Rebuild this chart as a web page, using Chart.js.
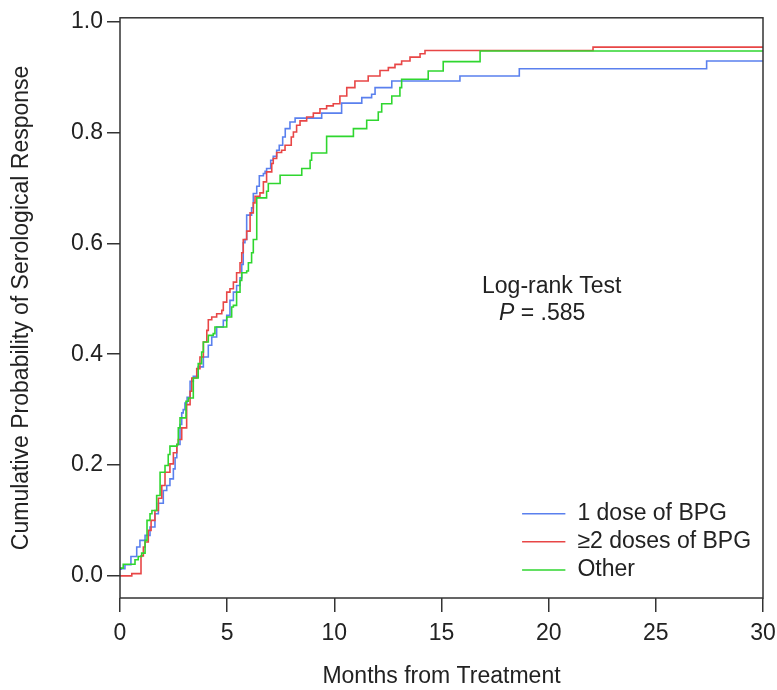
<!DOCTYPE html>
<html>
<head>
<meta charset="utf-8">
<script src="https://cdn.jsdelivr.net/npm/chart.js@4"></script>
<style>
  body { margin: 0; background: #fff; }
</style>
</head>
<body>
<canvas id="km-chart" width="777" height="690"></canvas>
<script>
const kmChart = document.getElementById('km-chart');

// values (months, cumulative probability)
const oneDoseMonths = [0, 0.05, 0.23, 0.51, 0.78, 0.93, 1.17, 1.40, 1.63, 1.79, 2.02, 2.18, 2.33, 2.49, 2.57, 2.65, 2.80, 2.88, 2.95, 3.03, 3.13, 3.27, 3.42, 3.65, 3.89, 4.12, 4.28, 4.51, 4.82, 4.98, 5.13, 5.29, 5.44, 5.60, 5.68, 5.75, 5.83, 5.91, 6.14, 6.22, 6.38, 6.50, 6.69, 6.77, 6.84, 7.03, 7.15, 7.31, 7.43, 7.59, 7.71, 7.93, 8.17, 9.41, 10.34, 11.28, 11.74, 11.90, 12.68, 15.86, 18.63, 27.37, 30];
const oneDoseProb = [0.012, 0.013, 0.020, 0.035, 0.052, 0.064, 0.073, 0.088, 0.112, 0.131, 0.154, 0.163, 0.175, 0.193, 0.213, 0.237, 0.273, 0.294, 0.300, 0.312, 0.322, 0.351, 0.360, 0.377, 0.395, 0.416, 0.431, 0.449, 0.461, 0.470, 0.497, 0.512, 0.524, 0.538, 0.562, 0.601, 0.607, 0.651, 0.664, 0.690, 0.703, 0.722, 0.726, 0.730, 0.735, 0.750, 0.757, 0.768, 0.777, 0.792, 0.807, 0.819, 0.826, 0.835, 0.853, 0.863, 0.869, 0.881, 0.893, 0.902, 0.915, 0.929, 0.929];

const twoDoseMonths = [0, 0.55, 0.98, 1.09, 1.17, 1.32, 1.45, 1.63, 1.79, 1.95, 2.10, 2.33, 2.49, 2.65, 2.72, 2.88, 3.11, 3.27, 3.35, 3.58, 3.73, 3.89, 4.05, 4.12, 4.28, 4.51, 4.75, 4.82, 4.98, 5.13, 5.29, 5.44, 5.60, 5.68, 5.75, 5.91, 6.07, 6.22, 6.30, 6.53, 6.69, 6.84, 7.08, 7.15, 7.31, 7.54, 7.70, 7.99, 8.09, 8.24, 8.40, 8.71, 9.02, 9.33, 9.64, 9.95, 10.26, 10.58, 10.96, 11.58, 12.13, 12.52, 12.83, 13.14, 13.53, 14.00, 14.23, 22.07, 30];
const twoDoseProb = [0, 0.004, 0.036, 0.052, 0.061, 0.082, 0.100, 0.118, 0.140, 0.163, 0.187, 0.202, 0.222, 0.237, 0.246, 0.267, 0.309, 0.333, 0.357, 0.374, 0.395, 0.422, 0.443, 0.462, 0.467, 0.473, 0.479, 0.494, 0.512, 0.518, 0.530, 0.547, 0.565, 0.583, 0.607, 0.622, 0.655, 0.673, 0.685, 0.691, 0.711, 0.729, 0.744, 0.753, 0.764, 0.768, 0.777, 0.792, 0.801, 0.813, 0.821, 0.828, 0.835, 0.843, 0.848, 0.852, 0.866, 0.881, 0.893, 0.902, 0.912, 0.917, 0.923, 0.929, 0.936, 0.942, 0.948, 0.954, 0.954];

const otherMonths = [0, 0.15, 0.70, 0.85, 1.01, 1.17, 1.26, 1.40, 1.49, 1.71, 1.87, 2.10, 2.25, 2.33, 2.65, 2.72, 2.80, 3.08, 3.19, 3.42, 3.65, 3.81, 3.89, 4.12, 4.35, 4.43, 4.98, 5.21, 5.29, 5.44, 5.60, 5.68, 5.91, 5.99, 6.14, 6.22, 6.38, 6.84, 6.92, 7.47, 8.48, 8.87, 8.94, 9.64, 10.89, 11.51, 12.05, 12.21, 12.68, 13.06, 13.14, 14.38, 15.08, 16.80, 30];
const otherProb = [0.014, 0.021, 0.029, 0.035, 0.041, 0.064, 0.100, 0.112, 0.118, 0.145, 0.187, 0.199, 0.219, 0.234, 0.237, 0.267, 0.285, 0.315, 0.321, 0.357, 0.383, 0.404, 0.422, 0.434, 0.437, 0.449, 0.467, 0.485, 0.488, 0.512, 0.533, 0.547, 0.550, 0.565, 0.583, 0.607, 0.682, 0.694, 0.708, 0.723, 0.735, 0.750, 0.763, 0.793, 0.807, 0.822, 0.837, 0.852, 0.866, 0.881, 0.896, 0.911, 0.928, 0.947, 0.947];

const seriesLabels = ['1 dose of BPG', '\u22652 doses of BPG', 'Other'];
const xTicks = [0, 5, 10, 15, 20, 25, 30];
const yTicks = [0, 0.2, 0.4, 0.6, 0.8, 1.0];

const FONT = '"Liberation Sans", Arial, sans-serif';
const INK = '#222';

const toPoints = (xs, ys) => xs.map((x, i) => ({ x: x, y: ys[i] }));

// box around the plot, log-rank note and legend inside the plot
const annotations = {
  id: 'annotations',
  afterDraw(chart) {
    const { ctx, chartArea, scales } = chart;
    ctx.save();
    ctx.strokeStyle = '#333';
    ctx.lineWidth = 1.5;
    ctx.strokeRect(chartArea.left, chartArea.top, chartArea.right - chartArea.left, chartArea.bottom - chartArea.top);

    ctx.fillStyle = INK;
    ctx.textBaseline = 'middle';
    ctx.textAlign = 'left';
    ctx.font = '23px ' + FONT;
    ctx.fillText('Log-rank Test', scales.x.getPixelForValue(16.89), scales.y.getPixelForValue(0.522));
    let px = scales.x.getPixelForValue(17.68);
    const py = scales.y.getPixelForValue(0.474);
    ctx.font = 'italic 23px ' + FONT;
    ctx.fillText('P', px, py);
    px += ctx.measureText('P').width;
    ctx.font = '23px ' + FONT;
    ctx.fillText(' = .585', px, py);

    // legend
    const lx = scales.x.getPixelForValue(18.76);
    const lw = scales.x.getPixelForValue(20.78) - lx;
    chart.data.datasets.forEach((ds, i) => {
      const ly = scales.y.getPixelForValue(0.112 - i * 0.0507);
      ctx.strokeStyle = ds.borderColor;
      ctx.lineWidth = 1.5;
      ctx.beginPath();
      ctx.moveTo(lx, ly);
      ctx.lineTo(lx + lw, ly);
      ctx.stroke();
      ctx.fillStyle = INK;
      ctx.fillText(ds.label, lx + lw + 12, ly);
    });
    ctx.restore();
  }
};

new Chart(kmChart, {
  type: 'line',
  data: {
    datasets: [{
      label: seriesLabels[0],
      data: toPoints(oneDoseMonths, oneDoseProb),
      borderColor: '#5a80ee',
      order: 3
    }, {
      label: seriesLabels[1],
      data: toPoints(twoDoseMonths, twoDoseProb),
      borderColor: '#e84646',
      order: 2
    }, {
      label: seriesLabels[2],
      data: toPoints(otherMonths, otherProb),
      borderColor: '#2fd62f',
      order: 1
    }]
  },
  options: {
    responsive: false,
    animation: false,
    devicePixelRatio: 1,
    layout: { padding: { top: 13, right: 0, left: 0, bottom: 0 } },
    elements: {
      line: { stepped: true, borderWidth: 1.6, tension: 0 },
      point: { radius: 0 }
    },
    plugins: {
      legend: { display: false },
      tooltip: { enabled: false }
    },
    scales: {
      x: {
        type: 'linear',
        min: 0,
        max: 30,
        afterBuildTicks: scale => { scale.ticks = xTicks.map(v => ({ value: v })); },
        afterFit: scale => { scale.height = 92; scale.paddingRight = 14; },
        grid: { drawOnChartArea: false, drawTicks: true, tickLength: 14, color: '#333', lineWidth: 1.5 },
        border: { display: false },
        ticks: { color: INK, font: { family: FONT, size: 23 }, padding: 8, maxRotation: 0 },
        title: { display: true, text: 'Months from Treatment', color: INK, font: { family: FONT, size: 23 }, padding: { top: 0, bottom: 0 } }
      },
      y: {
        type: 'linear',
        min: -0.04,
        max: 1.007,
        afterBuildTicks: scale => { scale.ticks = yTicks.map(v => ({ value: v })); },
        afterFit: scale => { scale.width = 120; },
        grid: { drawOnChartArea: false, drawTicks: true, tickLength: 13, color: '#333', lineWidth: 1.5 },
        border: { display: false },
        ticks: { color: INK, font: { family: FONT, size: 23 }, padding: 4, callback: v => v.toFixed(1) },
        title: { display: true, text: 'Cumulative Probability of Serological Response', color: INK, font: { family: FONT, size: 23 }, padding: { top: 8, bottom: 0 } }
      }
    }
  },
  plugins: [annotations]
});
</script>
</body>
</html>
